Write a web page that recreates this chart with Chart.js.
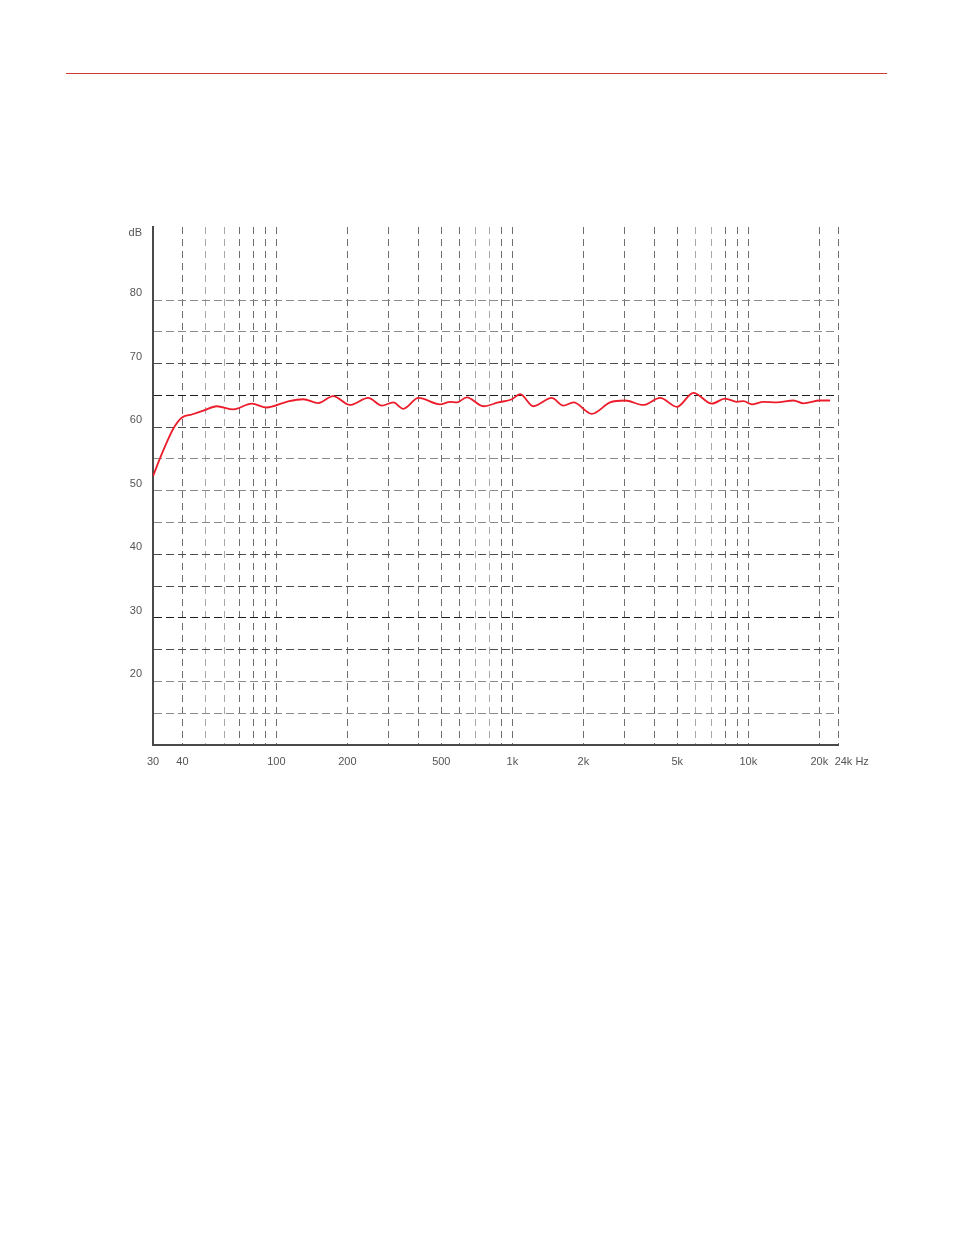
<!DOCTYPE html>
<html>
<head>
<meta charset="utf-8">
<title>Frequency response</title>
<script src="https://cdn.jsdelivr.net/npm/chart.js@4/dist/chart.umd.min.js"></script>
<style>
    body { margin: 0; background: #fff; }
    #wrap { position: relative; width: 954px; height: 1235px; }
    #rule { position: absolute; left: 66px; top: 73px; width: 821px; border-top: 1px solid #cf3a32; }
    #responseChart { position: absolute; left: 0; top: 0; }
</style>
</head>
<body>
<div id="wrap">
    <div id="rule"></div>
    <canvas id="responseChart" width="954" height="1235"></canvas>
</div>
<script>
var freqs = [30, 32.7, 36.6, 39.7, 43.8, 49, 55.9, 65.7, 78.6, 91, 110.6, 130, 150.6, 174, 205, 245,
    280, 313, 345, 400, 494, 545, 582, 641, 754, 873, 995, 1079, 1228, 1469, 1646, 1815, 2172,
    2596, 3005, 3593, 4231, 4981, 5856, 7007, 7977, 8945, 9546, 10353, 11596, 13215, 15546,
    17130, 20164, 22228];
var levels = [52.3, 55.8, 59.8, 61.5, 62.0, 62.6, 63.3, 62.8, 63.7, 63.1, 64.0, 64.4, 63.8, 64.9, 63.5, 64.6,
    63.4, 63.9, 62.9, 64.6, 63.6, 64.0, 63.9, 64.7, 63.3, 63.9, 64.4, 65.2, 63.3, 64.6, 63.4, 63.9, 62.1,
    63.9, 64.2, 63.5, 64.6, 63.2, 65.4, 63.7, 64.5, 64.0, 64.1, 63.6, 64.0, 63.9, 64.2,
    63.75, 64.2, 64.2];

var xTicks = [30, 40, 50, 60, 70, 80, 90, 100, 200, 300, 400, 500, 600, 700, 800, 900,
    1000, 2000, 3000, 4000, 5000, 6000, 7000, 8000, 9000, 10000, 20000, 24000];
var xLabels = { 30: '30', 40: '40', 100: '100', 200: '200', 500: '500', 1000: '1k', 2000: '2k',
    5000: '5k', 10000: '10k', 20000: '20k', 24000: '         24k Hz' };
var yTicks = [10, 15, 20, 25, 30, 35, 40, 45, 50, 55, 60, 65, 70, 75, 80, 89.4];
var yLabels = { 20: '20', 30: '30', 40: '40', 50: '50', 60: '60', 70: '70', 80: '80', 89.4: 'dB' };
var darkLines = [30, 65];
var midLines = [25, 35, 40, 60, 70];
var lightFreqs = [50, 60, 700, 800, 6000, 7000];

var labelFont = { family: "'Liberation Sans Narrow', 'Liberation Sans', Arial, sans-serif", size: 11 };

document.addEventListener("DOMContentLoaded", function() {
    createResponseChart();
});

function createResponseChart() {
    var points = freqs.map(function(f, i) { return { x: f, y: levels[i] }; });
    var ctx = document.getElementById('responseChart').getContext('2d');
    new Chart(ctx, {
        type: 'line',
        data: {
            datasets: [{
                data: points,
                borderColor: '#ec1c2a',
                borderWidth: 1.8,
                pointRadius: 0,
                fill: false,
                cubicInterpolationMode: 'monotone'
            }]
        },
        options: {
            responsive: false,
            animation: false,
            layout: { padding: { left: 100, top: 227, right: 116, bottom: 460 } },
            plugins: { legend: { display: false }, tooltip: { enabled: false } },
            scales: {
                x: {
                    type: 'logarithmic',
                    min: 30,
                    max: 24000,
                    afterBuildTicks: function(scale) {
                        scale.ticks = xTicks.map(function(v) { return { value: v }; });
                    },
                    afterFit: function(scale) { scale.height = 30; },
                    border: { display: true, color: '#4a4a4a', width: 2, dash: [7, 5] },
                    grid: {
                        drawTicks: false,
                        lineWidth: 1,
                        color: function(c) {
                            var v = c.tick && c.tick.value;
                            if (v === 30) return 'rgba(0,0,0,0)';
                            if (lightFreqs.indexOf(v) >= 0) return '#a8a8a8';
                            return '#6e6e6e';
                        }
                    },
                    ticks: {
                        autoSkip: false,
                        maxRotation: 0,
                        padding: 10,
                        color: '#555',
                        font: labelFont,
                        callback: function(v) { return xLabels[v] || ''; }
                    }
                },
                y: {
                    min: 10,
                    max: 91.5,
                    afterBuildTicks: function(scale) {
                        scale.ticks = yTicks.map(function(v) { return { value: v }; });
                    },
                    afterFit: function(scale) { scale.width = 53; },
                    border: { display: true, color: '#4a4a4a', width: 2, dash: [8, 4] },
                    grid: {
                        drawTicks: false,
                        lineWidth: 1,
                        color: function(c) {
                            var v = c.tick && c.tick.value;
                            if (v === 10 || v === 89.4) return 'rgba(0,0,0,0)';
                            if (darkLines.indexOf(v) >= 0) return '#1e1e1e';
                            if (midLines.indexOf(v) >= 0) return '#4e4e4e';
                            return '#8a8a8a';
                        }
                    },
                    ticks: {
                        padding: 11,
                        labelOffset: -7,
                        color: '#555',
                        font: labelFont,
                        callback: function(v) { return yLabels[v] || ''; }
                    }
                }
            }
        }
    });
}
</script>
</body>
</html>
